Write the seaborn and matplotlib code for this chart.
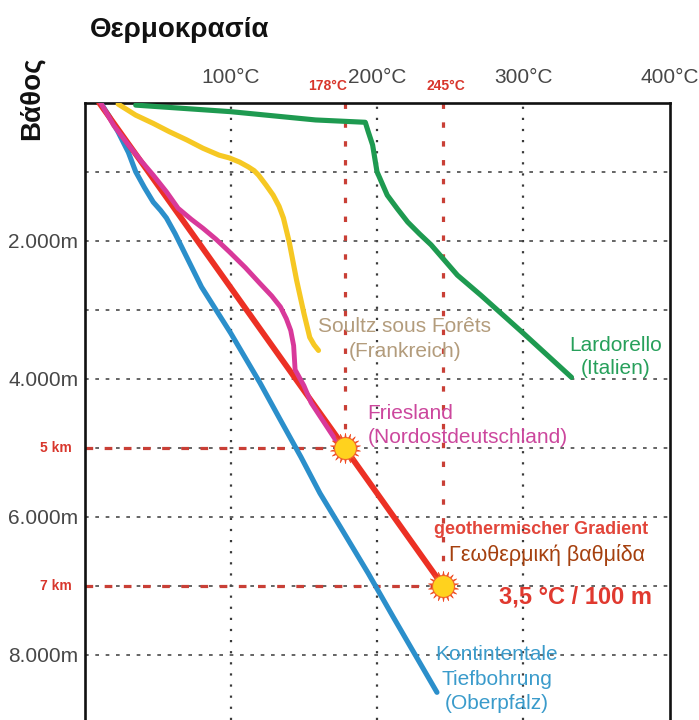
import matplotlib
matplotlib.use("Agg")
import matplotlib.pyplot as plt
from matplotlib.transforms import blended_transform_factory
import pandas as pd
import seaborn as sns

# Temperature (°C) against depth (m) for each borehole profile
kontinental_temp = [11, 17, 23, 30, 35, 41, 47, 52, 56, 62, 69, 80, 100, 120, 134, 148, 161, 175, 194, 211, 241]
kontinental_depth = [0, 200, 425, 720, 1000, 1230, 1440, 1560, 1670, 1900, 2200, 2670, 3340, 4060, 4600, 5135, 5660, 6150, 6820, 7450, 8545]
soultz_temp = [23, 35, 47, 58, 70, 81, 92, 99, 106, 112, 116, 119, 124, 129, 133, 136, 140, 145, 150, 154, 157, 160]
soultz_depth = [20, 180, 300, 420, 540, 660, 760, 800, 860, 930, 985, 1050, 1190, 1340, 1500, 1670, 2020, 2570, 3050, 3400, 3510, 3590]
lardorello_temp = [35, 100, 158, 192, 194, 197, 200, 207, 214, 221, 229, 237, 246, 255, 271, 300, 333]
lardorello_depth = [35, 130, 250, 284, 420, 613, 1000, 1340, 1540, 1730, 1900, 2060, 2280, 2500, 2790, 3340, 3980]
gradient_temp = [10, 245]
gradient_depth = [0, 7000]
friesland_temp = [11, 20, 30, 39, 47, 56, 64, 73, 81, 90, 99, 110, 120, 128, 134, 138, 141, 143, 144, 150, 155, 164, 173, 178]
friesland_depth = [0, 330, 610, 850, 1050, 1290, 1530, 1690, 1820, 1980, 2160, 2390, 2620, 2800, 2960, 3130, 3300, 3520, 3870, 4100, 4350, 4640, 4930, 5000]

# Highlighted reference points (temperature reached at 5 km and 7 km)
marker_temp = [178, 245]
marker_depth = [5000, 7000]

temp_ticks = [100, 200, 300, 400]
temp_tick_labels = ["100°C", "200°C", "300°C", "400°C"]
depth_ticks = [2000, 4000, 6000, 8000]
depth_tick_labels = ["2.000m", "4.000m", "6.000m", "8.000m"]
depth_grid = [1000, 2000, 3000, 4000, 5000, 6000, 7000, 8000]
marker_depth_labels = ["5 km", "7 km"]
marker_temp_labels = ["178°C", "245°C"]

profiles = {
    "Kontinental": (kontinental_temp, kontinental_depth, "#2B8FCB", 3.7),
    "Soultz": (soultz_temp, soultz_depth, "#F6C823", 3.7),
    "Lardorello": (lardorello_temp, lardorello_depth, "#1E9A50", 3.7),
    "Gradient": (gradient_temp, gradient_depth, "#EC3024", 4.2),
    "Friesland": (friesland_temp, friesland_depth, "#D8399A", 3.5),
}

frames = []
for name, (t, d, _, _) in profiles.items():
    frames.append(pd.DataFrame({"profile": name, "temp": t, "depth": d}))
df = pd.concat(frames, ignore_index=True)

sns.set_theme(style="white")
plt.rcParams["font.family"] = ["Liberation Sans", "DejaVu Sans"]

fig = plt.figure(figsize=(6.99, 7.2), dpi=100)
ax = fig.add_axes([84.5 / 699, 0.0, (669.5 - 84.5) / 699, 1 - 102.7 / 720])
ax.set_xlim(0, 400)
ax.set_ylim(8946, 0)

# Grid: dotted verticals, short-dashed horizontals
for t in temp_ticks[:-1]:
    ax.axvline(t, color="#3a3a3a", lw=1.6, ls=(0, (1, 4)), zorder=1)
for d in depth_grid:
    ax.axhline(d, color="#4a4a4a", lw=1.2, ls=(0, (2.2, 4)), zorder=1)

# Red guides to the 5 km / 7 km points
for t, d in zip(marker_temp, marker_depth):
    ax.plot([t, t], [0, d], color="#C93F36", lw=2.3, ls=(0, (1.7, 4.2)), zorder=2)
    ax.plot([0, t], [d, d], color="#C93F36", lw=2.3, ls=(0, (2.4, 3.6)), zorder=2)

for name, (_, _, color, lw) in profiles.items():
    sub = df[df["profile"] == name]
    sns.lineplot(data=sub, x="temp", y="depth", sort=False, estimator=None,
                 color=color, linewidth=lw, ax=ax, zorder=3,
                 solid_capstyle="round", solid_joinstyle="round", legend=False)

# Sun-like markers
mk = pd.DataFrame({"temp": marker_temp, "depth": marker_depth})
sns.scatterplot(data=mk, x="temp", y="depth", marker=(18, 1, 0), s=480,
                color="#F04A22", edgecolor="#F04A22", linewidth=0.5, ax=ax, zorder=5)
sns.scatterplot(data=mk, x="temp", y="depth", marker="o", s=250,
                color="#FFD21E", edgecolor="#F2662A", linewidth=0.8, ax=ax, zorder=6)

ax.set_xlabel("")
ax.set_ylabel("")

# Axis ticks and labels
ax.xaxis.tick_top()
ax.set_xticks(temp_ticks)
ax.set_xticklabels(temp_tick_labels)
ax.set_yticks(depth_ticks)
ax.set_yticklabels(depth_tick_labels)
ax.tick_params(axis="x", length=0, pad=11, labelsize=15, labelcolor="#474747")
ax.tick_params(axis="y", length=0, pad=4.5, labelsize=15, labelcolor="#474747")

for side in ("left", "top", "right"):
    ax.spines[side].set_visible(True)
    ax.spines[side].set_color("#111111")
    ax.spines[side].set_linewidth(1.9)
ax.spines["bottom"].set_visible(False)

red = "#D8362C"
ytrans = blended_transform_factory(ax.transAxes, ax.transData)
for d, lab in zip(marker_depth, marker_depth_labels):
    ax.text(-0.022, d, lab, transform=ytrans, ha="right", va="center",
            fontsize=10, fontweight="bold", color=red)
xtrans = blended_transform_factory(ax.transData, fig.transFigure)
ax.text(marker_temp[0] - 12, 1 - 86 / 720, marker_temp_labels[0], transform=xtrans,
        ha="center", va="center", fontsize=10, fontweight="bold", color=red)
ax.text(marker_temp[1] + 2, 1 - 86 / 720, marker_temp_labels[1], transform=xtrans,
        ha="center", va="center", fontsize=10, fontweight="bold", color=red)

# Profile annotations
ax.text(219, 3250, "Soultz sous Forêts", ha="center", va="center", fontsize=15, color="#B39C7C")
ax.text(219, 3600, "(Frankreich)", ha="center", va="center", fontsize=15, color="#B39C7C")
ax.text(363, 3520, "Lardorello", ha="center", va="center", fontsize=15, color="#27A05B")
ax.text(363, 3850, "(Italien)", ha="center", va="center", fontsize=15, color="#27A05B")
ax.text(193.5, 4500, "Friesland", ha="left", va="center", fontsize=15, color="#CC479D")
ax.text(193.5, 4850, "(Nordostdeutschland)", ha="left", va="center", fontsize=15, color="#CC479D")
ax.text(312, 6190, "geothermischer Gradient", ha="center", va="center", fontsize=13,
        fontweight="bold", color="#E2453A")
ax.text(316, 6550, "Γεωθερμική βαθμίδα", ha="center", va="center", fontsize=15.5,
        color="#A5400E")
ax.text(336, 7160, "3,5 °C / 100 m", ha="center", va="center", fontsize=17,
        fontweight="bold", color="#E0392F")
ax.text(282, 8000, "Kontintentale", ha="center", va="center", fontsize=15, color="#3A9BCB")
ax.text(282, 8360, "Tiefbohrung", ha="center", va="center", fontsize=15, color="#3A9BCB")
ax.text(282, 8700, "(Oberpfalz)", ha="center", va="center", fontsize=15, color="#3A9BCB")

fig.text(180 / 699, 1 - 30 / 720, "Θερμοκρασία", ha="center", va="center",
         fontsize=20, fontweight="bold", color="#111111")
fig.text(32 / 699, 1 - 98 / 720, "Βάθος", ha="center", va="center", rotation=90,
         fontsize=20, fontweight="bold", color="#111111")

fig.savefig("out.png", dpi=100, facecolor="white")
